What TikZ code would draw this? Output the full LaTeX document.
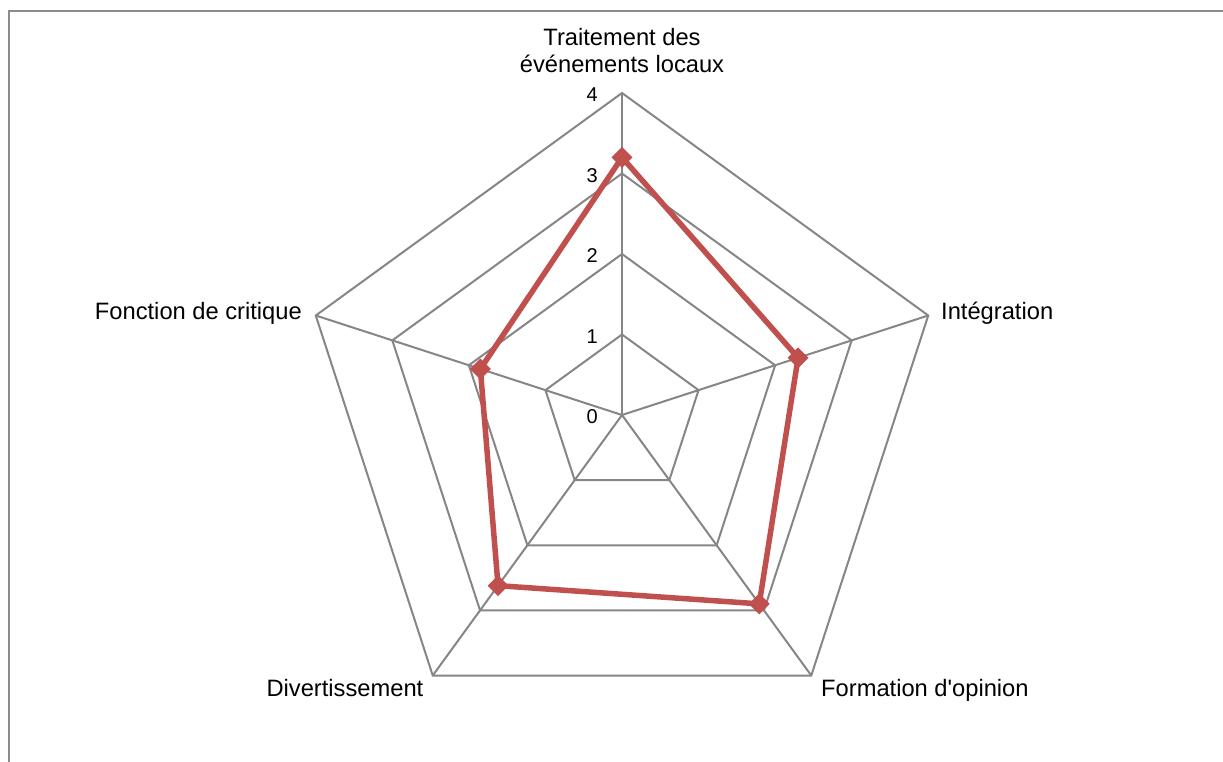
\documentclass[tikz,border=0pt]{standalone}
\usepackage{fontspec}
\setmainfont{Liberation Sans}
\usetikzlibrary{shapes.geometric,calc}
\definecolor{gridgray}{HTML}{868686}
\definecolor{framegray}{HTML}{8C8C8C}
\definecolor{serred}{HTML}{C0504D}
\begin{document}
\begin{tikzpicture}[x=1pt,y=1pt,
  font=\fontsize{23.7}{27}\selectfont,
  gridline/.style={draw=gridgray, line width=2pt, line join=miter},
  series/.style={draw=serred, line width=5.5pt, line join=round},
  marker/.style={diamond, fill=serred, inner sep=0pt, minimum size=21pt},
  axislbl/.style={inner sep=0pt},
  ticklbl/.style={inner sep=0pt, anchor=east, font=\fontsize{20}{22}\selectfont}]
\useasboundingbox (0,0) rectangle (1223,761);
% frame (left and top edges visible)
\coordinate (fb) at (9,-10);
\coordinate (fc) at (9,750);
\coordinate (fr) at (1240,750);
\draw[draw=framegray, line width=2.5pt] (fb) -- (fc) -- (fr);
\coordinate (O) at (622,346);
% grid
\foreach \i/\a in {0/90,1/18,2/-54,3/-126,4/162}{
  \foreach \k in {1,...,4}{
    \coordinate (g\k-\i) at ($(O)+(\a:{80.5*\k})$);
  }
}
\foreach \k in {1,...,4}{
  \draw[gridline] (g\k-0) -- (g\k-1) -- (g\k-2) -- (g\k-3) -- (g\k-4) -- cycle;
}
\foreach \i in {0,...,4}{
  \draw[gridline] (O) -- (g4-\i);
}
% tick labels
\foreach \k in {0,...,4}{
  \node[ticklbl] (t\k) at ($(O)+(598-622,{80.5*\k-2})$) {\k};
}
% axis labels
\node[axislbl, align=center, anchor=base] (l0) at (622,688) {Traitement des\\événements locaux};
\node[axislbl, anchor=base west] (l1) at (941,441) {Intégration};
\node[axislbl, anchor=base west] (l2) at (821,65) {Formation d\textquotesingle opinion};
\node[axislbl, anchor=base east] (l3) at (423.5,65) {Divertissement};
\node[axislbl, anchor=base east] (l4) at (302,441) {Fonction de critique};
% data
\coordinate (d0) at ($(O)+(90:{80.5*3.2})$);
\coordinate (d1) at ($(O)+(18:{80.5*2.3})$);
\coordinate (d2) at ($(O)+(-54:{80.5*2.9})$);
\coordinate (d3) at ($(O)+(-126:{80.5*2.62})$);
\coordinate (d4) at ($(O)+(162:{80.5*1.85})$);
\draw[series] (d0) -- (d1) -- (d2) -- (d3) -- (d4) -- cycle;
\foreach \i in {0,...,4}{
  \node[marker] (m\i) at (d\i) {};
}
\end{tikzpicture}
\end{document}
